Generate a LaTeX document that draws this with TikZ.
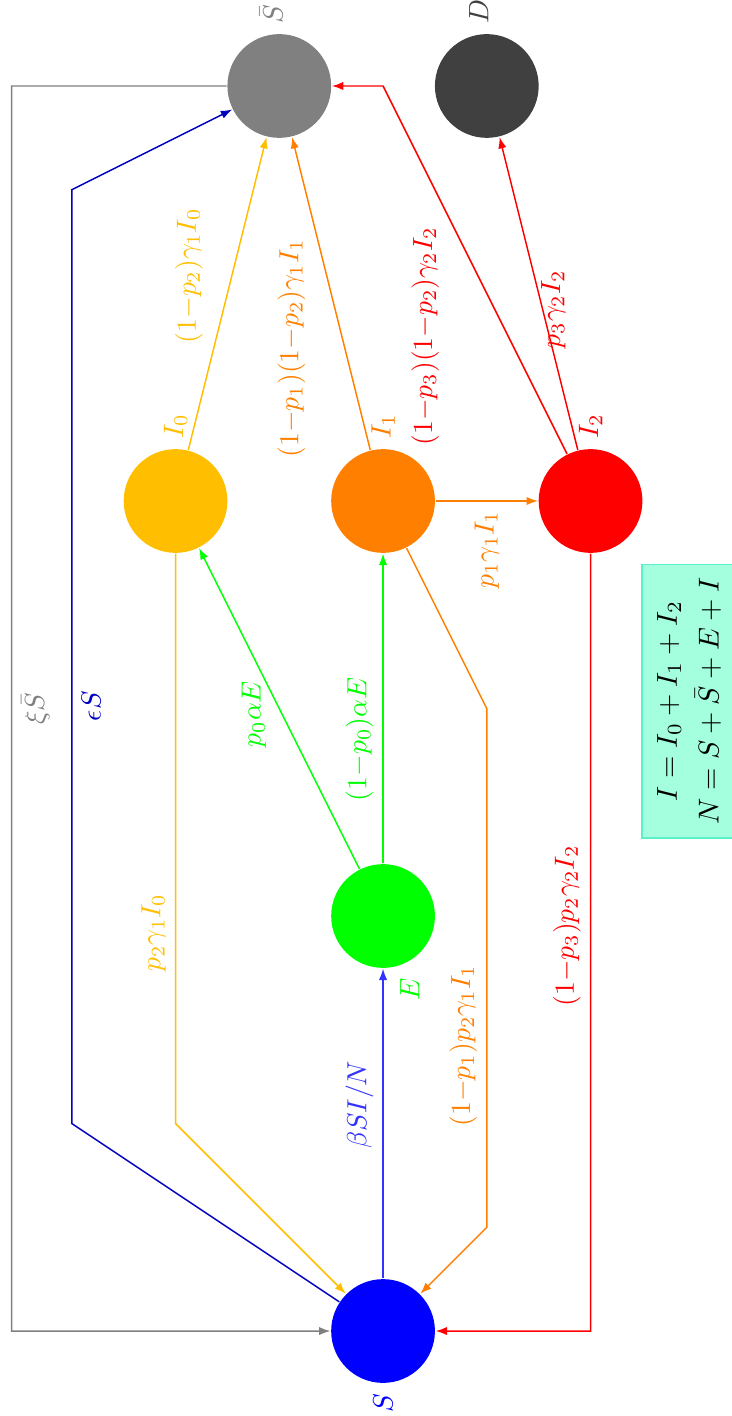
\documentclass[tikz,border=0pt]{standalone}
\usepackage{amsmath}
\usepackage{amssymb}
\usepackage{tikz}
\usetikzlibrary{arrows.meta, calc}
\definecolor{amber}{RGB}{255,191,0}
\definecolor{sumfill}{RGB}{164,255,222}
\definecolor{sumdraw}{RGB}{90,240,200}
\tikzstyle{compartment} = [circle, minimum size=1cm, inner sep=0pt, text centered]
\tikzstyle{rate} = [scale=0.76]
\tikzstyle{flow} = [-{Latex[length=1.1mm, width=0.8mm]}]
\tikzstyle{sums} = [rectangle, draw=sumdraw, fill=sumfill, align=center, scale=0.79, inner xsep=2pt, minimum width=3.34cm, minimum height=1.15cm]

\begin{document}
\begin{tikzpicture}[node distance=4cm, rotate=90, transform shape, every label/.style={scale=0.77}]
\useasboundingbox (-0.819,-3.354) rectangle (12.829,3.692);
\node (S) [compartment, fill=blue, label={[blue, anchor=east]west:$S$}] {};
\node (E) [compartment, fill=green, right of=S, label={[green, anchor=north east, yshift=-2.6pt]west:$E$}] {};
\node (I1) [compartment, fill=orange, right of=E, label={[orange, anchor=west]east:$I_1$}] {};
\node (I0) [compartment, fill=amber, above of=I1, yshift=-2cm, label={[amber, anchor=west]east:$I_0$}] {};
\node (I2) [compartment, fill=red, below of=I1, yshift=2cm, label={[red, anchor=west]east:$I_2$}] {};
\node (Sbar) [compartment, fill=gray, right of=I1, yshift=1cm, label={[gray, anchor=west, yshift=2.9pt]east:$\bar{S}$}] {};
\node (D) [compartment, fill=darkgray, right of=I1, yshift=-1cm, label={[darkgray, anchor=west, yshift=2.9pt]east:$D$}] {};
\node (sum) [sums] at (6.07,-2.95) {$I = I_0 + I_1 + I_2$ \\[2.5pt] $N = S + \bar{S} + E + I$};

\draw[flow, blue!80] (S) -- node[rate, pos=0.56, above] {$\beta SI/N$} (E);
\draw[flow, green] (E) -- node[rate, pos=0.616, above left, yshift=-5.5pt] {$p_0\alpha E$} (I0);
\draw[flow, green] (E) -- node[rate, pos=0.40, above] {$(1{-}p_0)\alpha E$} (I1);
\draw[flow, orange] (I1) -- node[rate, midway, left] {$p_1\gamma_1 I_1$} (I2);
\draw[flow, amber] (I0) -- node[rate, pos=0.31, above right] {$(1{-}p_2)\gamma_1 I_0$} (Sbar);
\draw[flow, orange] (I1) -- node[rate, pos=0.705, above left] {$(1{-}p_1)(1{-}p_2)\gamma_1 I_1$} (Sbar);
\draw[flow, red] (I2) -- node[rate, pos=0.45, below, yshift=4pt] {$p_3\gamma_2 I_2$} (D);
\draw[flow, red] (I2) -- node[rate, pos=0.643, above left] {$(1{-}p_3)(1{-}p_2)\gamma_2 I_2$} (12,0) -- (Sbar);
\draw[flow, amber] (I0) -- node[rate, pos=0.665, above] {$p_2\gamma_1 I_0$} (2,2) -- (S);
\draw[flow, orange] (I1) -- (6,-1) -- node[rate, pos=0.65, above] {$(1{-}p_1)p_2\gamma_1 I_1$} (1,-1) -- (S);
\draw[flow, red] (I2) -- node[rate, pos=0.479, above] {$(1{-}p_3)p_2\gamma_2 I_2$} (0,-2) -- (S);
\draw[flow, blue!75!black] (S) -- (2,3) -- node[rate, pos=0.447, below] {$\epsilon S$} (11,3) -- (Sbar);
\draw[flow, gray] (Sbar) -- (12,3.58) -- node[rate, midway, below] {$\xi\bar{S}$} (0,3.58) -- (S);
\end{tikzpicture}
\end{document}
